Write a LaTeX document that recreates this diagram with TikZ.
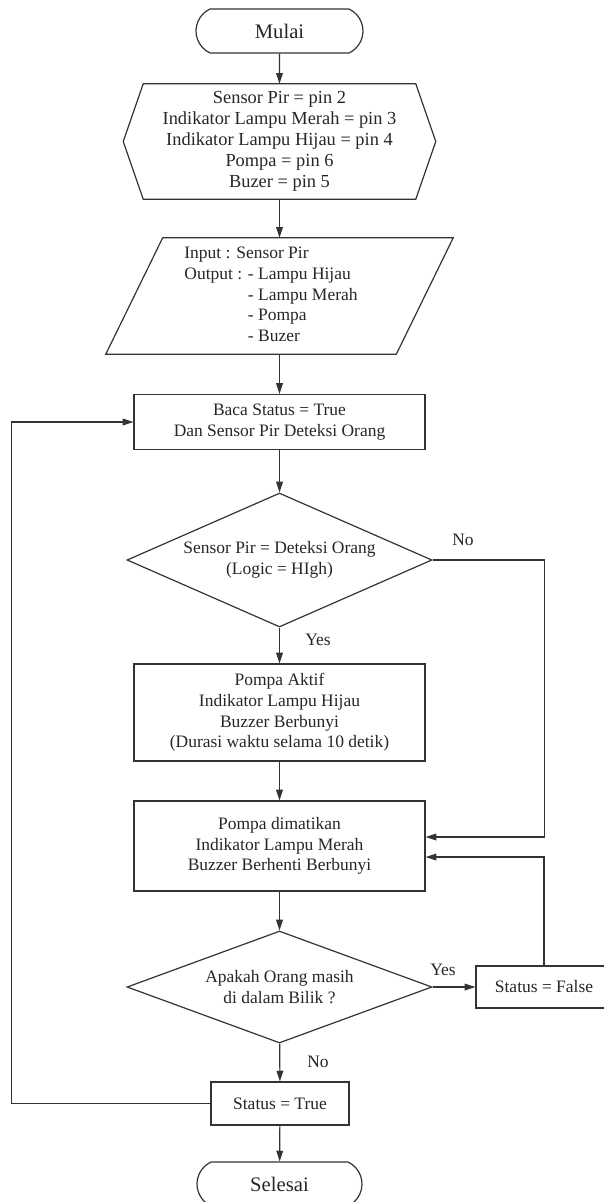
\documentclass[tikz,border=0pt]{standalone}
\usepackage{fontspec}
\setmainfont{Liberation Serif}
\usetikzlibrary{arrows.meta,shapes.geometric,shapes.misc}
\begin{document}
\begin{tikzpicture}[x=0.75pt,y=-0.75pt,
  every node/.style={font=\fontsize{13.1pt}{15.5pt}\selectfont, text=black!85},
  flow/.style={draw=black!80, line width=0.9pt},
  arr/.style={flow, -{Triangle[length=8pt,width=5pt]}},
  box/.style={rectangle, flow, align=center, inner sep=0pt, minimum width=218.25pt},
  term/.style={rounded rectangle, rounded rectangle arc length=130, flow, inner sep=0pt, minimum width=125.25pt, minimum height=33pt, font=\fontsize{15.5pt}{18pt}\selectfont},
  dec/.style={diamond, aspect=2.28, flow, align=center, inner sep=0pt, minimum width=228.75pt},
  plain/.style={rectangle, inner sep=0pt, align=center},
  lbl/.style={inner sep=0pt}]
\useasboundingbox (0,0) rectangle (603,1202);

% nodes
\node[term] (start) at (279.5,31) {Mulai};
\node[plain, minimum width=204pt, minimum height=86.25pt, font=\fontsize{13.8pt}{15.75pt}\selectfont] (init) at (279.5,141.5)
  {Sensor Pir = pin 2\\Indikator Lampu Merah = pin 3\\Indikator Lampu Hijau = pin 4\\Pompa = pin 6\\Buzer = pin 5};
\draw[flow] (init.north west) -- (init.north east) -- ([xshift=15pt]init.east)
  -- (init.south east) -- (init.south west) -- ([xshift=-15pt]init.west) -- cycle;

\node[plain, minimum width=217.5pt, minimum height=87pt] (io) at (279.5,296)
  {\begin{tabular}{@{}l@{}}Input : Sensor Pir\\Output : - Lampu Hijau\\\phantom{Output : }- Lampu Merah\\\phantom{Output : }- Pompa\\\phantom{Output : }- Buzer\end{tabular}\hspace*{12.75pt}};
\draw[flow] ([xshift=21.375pt]io.north west) -- ([xshift=21.375pt]io.north east)
  -- ([xshift=-21.375pt]io.south east) -- ([xshift=-21.375pt]io.south west) -- cycle;

\node[box, minimum height=41.25pt] (baca) at (279.5,422) {Baca Status = True\\Dan Sensor Pir Deteksi Orang};
\node[dec, minimum height=100.5pt] (d1) at (279.5,560) {Sensor Pir = Deteksi Orang\\(Logic = HIgh)};
\node[box, minimum height=72.75pt] (pa) at (279.5,712.5) {Pompa Aktif\\Indikator Lampu Hijau\\Buzzer Berbunyi\\(Durasi waktu selama 10 detik)};
\node[box, minimum height=67.5pt] (pd) at (279.5,846) {Pompa dimatikan\\Indikator Lampu Merah\\Buzzer Berhenti Berbunyi};
\node[dec, aspect=2.72, minimum height=84pt] (d2) at (279.5,987) {Apakah Orang masih\\di dalam Bilik ?};
\node[box, minimum width=102pt, minimum height=31.5pt] (sf) at (544,987) {Status = False};
\node[box, minimum width=103.5pt, minimum height=32.25pt] (st) at (280,1103.5) {Status = True};
\node[term, minimum width=123.75pt] (stop) at (279.5,1184) {Selesai};

% labels
\node[lbl] (yes1) at (318,640) {Yes};
\node[lbl] (no1) at (463,540) {No};
\node[lbl] (yes2) at (443,970) {Yes};
\node[lbl] (no2) at (318,1062) {No};

% connectors
\draw[arr] (start) -- (init);
\draw[arr] (init) -- (io);
\draw[arr] (io) -- (baca);
\draw[arr] (baca) -- (d1);
\draw[arr] (d1) -- (pa);
\draw[arr] (d1.east) -- ++(112,0) |- ([yshift=6.75pt]pd.east);
\draw[arr] (pa) -- (pd);
\draw[arr] (pd) -- (d2);
\draw[arr] (d2) -- (sf);
\draw[arr] (sf.north) |- ([yshift=-8.25pt]pd.east);
\draw[arr] (d2) -- (st);
\draw[arr] (st.west) -- ++(-199,0) |- (baca.west);
\draw[arr] (st) -- (stop);
\end{tikzpicture}
\end{document}
